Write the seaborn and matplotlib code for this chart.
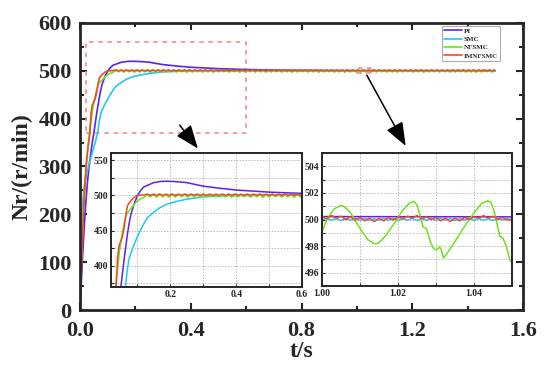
import numpy as np
import pandas as pd
import matplotlib
matplotlib.use('Agg')
import matplotlib.pyplot as plt
from matplotlib.patches import Rectangle, FancyArrowPatch
from matplotlib.ticker import MultipleLocator, FixedLocator, FixedFormatter
import seaborn as sns

methods = ['PI', 'SMC', 'NFSMC', 'IMNFSMC']
colors = ['#5a22f5', '#22c8f2', '#6fe31c', '#f5491f']

# start-up transient, shared time base (s)
t_rise = [0, 0.005, 0.01, 0.015, 0.02, 0.025, 0.03, 0.035, 0.04, 0.045, 0.05,
          0.055, 0.06, 0.065, 0.07, 0.075, 0.08, 0.09, 0.1, 0.11, 0.12]
pi_rise = [0, 60, 120, 170, 215, 255, 285, 310, 332, 352, 370,
           390, 410, 428, 445, 460, 472, 488, 499, 507, 512]
smc_rise = [0, 150, 225, 258, 272, 285, 298, 310, 320, 330, 340,
            350, 362, 375, 396, 410, 418, 430, 441, 451, 460]
nfsmc_rise = [0, 100, 180, 240, 285, 320, 350, 375, 395, 418, 435,
              448, 460, 470, 475, 478, 481, 487, 492, 495, 497]
imn_rise = [0, 90, 170, 230, 280, 318, 345, 366, 412, 430, 435,
            442, 455, 472, 485, 489, 492, 497, 500, 500.3, 500.5]

# slow settling of PI and SMC
t_tail = [0.13, 0.15, 0.17, 0.19, 0.22, 0.25, 0.3, 0.35, 0.4, 0.5, 0.6,
          0.7, 0.8, 0.9, 1.0, 1.2, 1.5]
pi_tail = [514, 518, 519.6, 520, 519.3, 518, 513, 510, 507.5, 504.5, 502.8,
           501.6, 501, 500.6, 500.3, 500.2, 500.2]
smc_tail = [468, 476, 483, 487.5, 491.5, 494.5, 497.8, 499, 499.7, 500, 500,
            500, 500, 500, 500, 500, 500]

# steady-state ripple of NFSMC / IMNFSMC, sampled every half period from 0.13 s
ripple_step = 0.0095
nfsmc_ripple = [
    501.0, 498.0, 501.2, 497.4, 501.1, 497.9, 501.3, 497.2, 500.9, 497.6,
    501.2, 498.1, 501.0, 497.3, 501.4, 497.8, 501.1, 497.0, 501.2, 497.7,
    500.9, 498.2, 501.3, 497.5, 501.0, 497.9, 501.4, 497.1, 501.1, 497.6,
    501.2, 498.0, 501.0, 497.3, 501.3, 497.8, 501.1, 497.1, 500.9, 497.7,
    501.3, 498.2, 501.1, 497.4, 501.0, 497.9, 501.4, 497.0, 501.2, 497.6,
    501.0, 498.1, 501.3, 497.3, 501.1, 497.8, 501.2, 497.2, 501.0, 497.7,
    501.4, 498.0, 501.0, 497.5, 501.2, 497.9, 501.3, 497.1, 501.1, 497.6,
    501.0, 498.2, 501.2, 497.4, 501.3, 497.8, 501.0, 497.0, 501.4, 497.7,
    501.1, 498.0, 501.3, 497.3, 500.9, 497.9, 501.2, 497.1, 501.3, 497.6,
    501.0, 498.1, 501.1, 497.5, 501.4, 497.8, 501.2, 497.2, 501.0, 497.7,
    501.3, 498.0, 501.0, 497.4, 501.1, 497.9, 501.4, 497.0, 501.2, 497.6,
    501.1, 498.2, 501.3, 497.3, 501.0, 497.8, 501.2, 497.1, 501.1, 497.7,
    501.0, 498.1, 501.2, 497.5, 501.3, 497.9, 501.0, 497.2, 501.4, 497.6,
    501.2, 498.0, 501.1, 497.4, 501.0, 497.8, 501.3, 497.1, 501.1, 497.7,
    501.0, 498.2, 501.2, 497.3, 501.1,
]
imn_ripple = [
    501.8, 499.9, 501.7, 500.0, 501.9, 499.9, 501.6, 500.0, 501.8, 499.8,
    501.7, 500.0, 501.9, 499.9, 501.6, 500.0, 501.8, 499.9, 501.7, 500.0,
    501.8, 499.9, 501.6, 500.0, 501.9, 499.8, 501.7, 500.0, 501.8, 499.9,
    501.6, 500.0, 501.8, 499.9, 501.7, 500.0, 501.9, 499.9, 501.6, 500.0,
    501.8, 499.8, 501.7, 500.0, 501.9, 499.9, 501.6, 500.0, 501.8, 499.9,
    501.7, 500.0, 501.8, 499.9, 501.6, 500.0, 501.9, 499.8, 501.7, 500.0,
    501.8, 499.9, 501.6, 500.0, 501.8, 499.9, 501.7, 500.0, 501.9, 499.9,
    501.6, 500.0, 501.8, 499.8, 501.7, 500.0, 501.9, 499.9, 501.6, 500.0,
    501.8, 499.9, 501.7, 500.0, 501.8, 499.9, 501.6, 500.0, 501.9, 499.8,
    501.7, 500.0, 501.8, 499.9, 501.6, 500.0, 501.8, 499.9, 501.7, 500.0,
    501.9, 499.9, 501.6, 500.0, 501.8, 499.8, 501.7, 500.0, 501.9, 499.9,
    501.6, 500.0, 501.8, 499.9, 501.7, 500.0, 501.8, 499.9, 501.6, 500.0,
    501.9, 499.8, 501.7, 500.0, 501.8, 499.9, 501.6, 500.0, 501.8, 499.9,
    501.7, 500.0, 501.9, 499.9, 501.6, 500.0, 501.8, 499.8, 501.7, 500.0,
    501.8, 499.9, 501.6, 500.0, 501.8,
]
t_ripple = list(0.13 + ripple_step * np.arange(len(nfsmc_ripple)))

# detail window 1.00-1.05 s
t_green_z = [1.000, 1.0015, 1.003, 1.0045, 1.0052, 1.006, 1.0075, 1.009, 1.0105,
             1.012, 1.0135, 1.0143, 1.015, 1.0165, 1.018, 1.0197, 1.021, 1.0225,
             1.0235, 1.0242, 1.025, 1.0258, 1.0266, 1.0275, 1.0286, 1.0295,
             1.0303, 1.031, 1.0315, 1.032, 1.034, 1.036, 1.038, 1.040, 1.042,
             1.0435, 1.0445, 1.0455, 1.0468, 1.0476, 1.0485, 1.0495, 1.05]
nfsmc_z = [499.1, 500.1, 500.75, 501.0, 501.05, 500.95, 500.5, 499.8, 499.1,
           498.5, 498.2, 498.18, 498.25, 498.7, 499.3, 500.0, 500.6, 501.1,
           501.3, 501.35, 501.1, 500.3, 499.45, 499.3, 498.25, 497.75,
           497.75, 497.95, 497.6, 497.1, 497.9, 498.8, 499.7, 500.5, 501.2,
           501.4, 501.3, 500.4, 498.75, 498.6, 498.0, 496.9, 496.8]
t_pi_z = [1.0, 1.05]
pi_z = [500.22, 500.2]
fine_step = 0.00125
imn_z = [500.25, 500.05, 500.3, 500.1, 500.25, 500.0, 500.2, 499.95, 500.15,
         499.9, 500.1, 499.85, 500.1, 499.9, 500.15, 499.95, 500.2, 500.05,
         500.25, 500.1, 500.3, 500.05, 500.2, 500.0, 500.15, 499.9, 500.1,
         499.85, 500.1, 499.9, 500.15, 500.0, 500.2, 500.1, 500.3, 500.1,
         500.25, 500.0, 500.15, 499.95, 500.0]
smc_z = [500.0, 500.08, 499.95, 500.07, 499.93, 500.06, 499.95, 500.08, 499.94,
         500.07, 499.95, 500.06, 499.93, 500.08, 499.95, 500.07, 499.94, 500.06,
         499.95, 500.08, 499.93, 500.07, 499.95, 500.06, 499.94, 500.08, 499.95,
         500.07, 499.93, 500.06, 499.95, 500.08, 499.94, 500.07, 499.95, 500.06,
         499.93, 500.08, 499.95, 500.07, 499.98]
t_fine = list(1.0 + fine_step * np.arange(len(imn_z)))


def frame(ts, ys, name):
    return pd.DataFrame({'t': ts, 'speed': ys, 'method': name})


main_df = pd.concat([
    frame(t_rise + t_tail, pi_rise + pi_tail, 'PI'),
    frame(t_rise + t_tail, smc_rise + smc_tail, 'SMC'),
    frame(t_rise + t_ripple, nfsmc_rise + nfsmc_ripple, 'NFSMC'),
    frame(t_rise + t_ripple, imn_rise + imn_ripple, 'IMNFSMC'),
], ignore_index=True)

zoom_df = pd.concat([
    frame(t_pi_z, pi_z, 'PI'),
    frame(t_fine, smc_z, 'SMC'),
    frame(t_green_z, nfsmc_z, 'NFSMC'),
    frame(t_fine, imn_z, 'IMNFSMC'),
], ignore_index=True)

sns.set_style('ticks')
plt.rcParams['font.family'] = ['Liberation Serif', 'DejaVu Serif']
plt.rcParams['font.weight'] = 'bold'
plt.rcParams['axes.labelweight'] = 'bold'

palette = dict(zip(methods, colors))

fig = plt.figure(figsize=(5.5, 3.77), dpi=100)
ax = fig.add_axes([80 / 550, 67 / 377, 443 / 550, 287 / 377])

sns.lineplot(data=main_df, x='t', y='speed', hue='method', hue_order=methods,
             palette=palette, estimator=None, linewidth=1.2, ax=ax)

ax.set_xlim(0, 1.6)
ax.set_ylim(0, 600)
ax.set_xticks(np.arange(0, 1.61, 0.4))
ax.set_xticklabels([f'{v:.1f}' for v in np.arange(0, 1.61, 0.4)])
ax.set_yticks(np.arange(0, 601, 100))
ax.xaxis.set_minor_locator(MultipleLocator(0.2))
ax.yaxis.set_minor_locator(MultipleLocator(50))
ax.tick_params(which='both', direction='in', top=True, right=True, width=1.5,
               labelsize=16)
ax.tick_params(axis='x', pad=8)
ax.tick_params(axis='y', pad=6)
ax.tick_params(which='major', length=5)
ax.tick_params(which='minor', length=3)
for s in ax.spines.values():
    s.set_linewidth(2)
ax.set_xlabel('t/s', fontsize=17, labelpad=0)
ax.set_ylabel('Nr/(r/min)', fontsize=17, labelpad=4)

handles, labels = ax.get_legend_handles_labels()
leg = ax.legend(handles, labels, loc='upper right', bbox_to_anchor=(0.948, 0.99),
                fontsize=5, frameon=True, fancybox=False, edgecolor='#999999',
                borderpad=0.3, labelspacing=0.35, handlelength=2.6,
                handletextpad=0.2, borderaxespad=0)
leg.get_frame().set_linewidth(0.8)

# zoom windows on main axes
box_style = dict(fill=False, edgecolor='#ff8080', linestyle=(0, (3, 3)), linewidth=1.1)
ax.add_patch(Rectangle((0.02, 370), 0.58, 190, **box_style))
ax.add_patch(Rectangle((1.0, 495), 0.05, 10, **box_style))


def style_inset(a, xt, xl, yt, yl):
    a.set_xlabel('')
    a.set_ylabel('')
    a.xaxis.set_major_locator(FixedLocator(xt))
    a.xaxis.set_major_formatter(FixedFormatter(xl))
    a.yaxis.set_major_locator(FixedLocator(yt))
    a.yaxis.set_major_formatter(FixedFormatter(yl))
    a.grid(True, color='#bbbbbb', linestyle=(0, (1.5, 1.5)), linewidth=0.7)
    a.tick_params(direction='in', length=2, width=0.8, labelsize=7, pad=2)
    for s in a.spines.values():
        s.set_linewidth(1.4)


ax1 = fig.add_axes([111 / 550, 90 / 377, 191 / 550, 134 / 377])
sns.lineplot(data=main_df, x='t', y='speed', hue='method', hue_order=methods,
             palette=palette, estimator=None, linewidth=1.1, legend=False, ax=ax1)
ax1.set_xlim(0.02, 0.6)
ax1.set_ylim(370, 560)
style_inset(ax1, [0.1, 0.2, 0.3, 0.4, 0.5, 0.6], ['', '0.2', '', '0.4', '', '0.6'],
            [375, 400, 425, 450, 475, 500, 525, 550],
            ['', '400', '', '450', '', '500', '', '550'])

ax2 = fig.add_axes([322 / 550, 91 / 377, 190 / 550, 133 / 377])
sns.lineplot(data=zoom_df, x='t', y='speed', hue='method', hue_order=methods,
             palette=palette, estimator=None, linewidth=1.1, legend=False, ax=ax2)
ax2.set_xlim(1.0, 1.05)
ax2.set_ylim(495, 505)
style_inset(ax2, [1.0, 1.01, 1.02, 1.03, 1.04, 1.05], ['1.00', '', '1.02', '', '1.04', ''],
            list(range(495, 506)),
            ['', '496', '', '498', '', '500', '', '502', '', '504', ''])

# arrows from the zoom windows to the insets
for tail, tip in [((0.354, 391), (0.432, 333)), ((1.031, 496), (1.181, 338))]:
    arr = FancyArrowPatch(tail, tip, transform=ax.transData,
                          arrowstyle='-|>,head_length=0.9,head_width=0.35',
                          mutation_scale=16, color='black', linewidth=1.1)
    fig.add_artist(arr)

fig.savefig('out.png', dpi=100)
